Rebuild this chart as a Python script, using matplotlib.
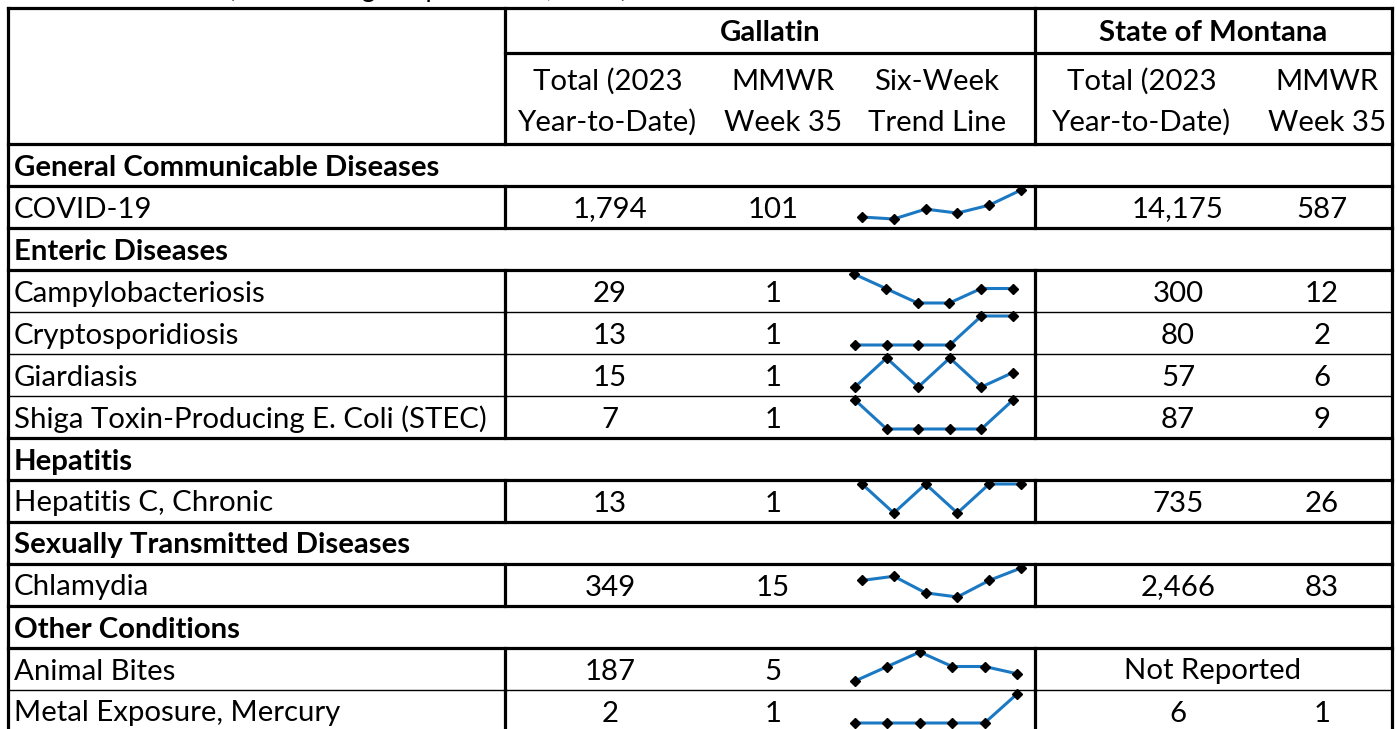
import matplotlib
matplotlib.use("Agg")
import matplotlib.pyplot as plt

plt.rcParams['font.family'] = ['Lato', 'DejaVu Sans']

# ---------------- data ----------------
groups = ["General Communicable Diseases", "Enteric Diseases", "Hepatitis",
          "Sexually Transmitted Diseases", "Other Conditions"]
conditions = ["COVID-19", "Campylobacteriosis", "Cryptosporidiosis", "Giardiasis",
              "Shiga Toxin-Producing E. Coli (STEC)", "Hepatitis C, Chronic",
              "Chlamydia", "Animal Bites", "Metal Exposure, Mercury"]
condition_group = [0, 1, 1, 1, 1, 2, 3, 4, 4]
gallatin_ytd = [1794, 29, 13, 15, 7, 13, 349, 187, 2]
gallatin_week = [101, 1, 1, 1, 1, 1, 15, 5, 1]
montana_ytd = [14175, 300, 80, 57, 87, 735, 2466, None, 6]
montana_week = [587, 12, 2, 6, 9, 26, 83, None, 1]
trend_covid = [60, 57, 72, 66, 78, 101]
trend_campylo = [2, 1, 0, 0, 1, 1]
trend_crypto = [0, 0, 0, 0, 1, 1]
trend_giardia = [0, 2, 0, 2, 0, 1]
trend_stec = [1, 0, 0, 0, 0, 1]
trend_hepc = [1, 0, 1, 0, 1, 1]
trend_chlamydia = [12, 13, 9, 8, 12, 15]
trend_bites = [4, 6, 8, 6, 6, 5]
trend_mercury = [0, 0, 0, 0, 0, 1]
trends = [trend_covid, trend_campylo, trend_crypto, trend_giardia, trend_stec,
          trend_hepc, trend_chlamydia, trend_bites, trend_mercury]
header_groups = ["Gallatin", "State of Montana"]
sub_headers = [("Total (2023", "Year-to-Date)"), ("MMWR", "Week 35"),
               ("Six-Week", "Trend Line"), ("Total (2023", "Year-to-Date)"),
               ("MMWR", "Week 35")]
not_reported = "Not Reported"
title = "(Data through September 2, 2023)"

# ---------------- layout (pixels) ----------------
W, H = 1397, 729
FS = 21.2
fig = plt.figure(figsize=(W / 100, H / 100), dpi=100)
ax = fig.add_axes([0, 0, 1, 1])
ax.set_xlim(0, W)
ax.set_ylim(H, 0)
ax.axis('off')

X_L, X_A, X_B, X_R = 8, 505, 1035, 1392
Y_TOP, Y_MID, Y_HDR = 8, 53, 144
ROW_H = 42
THICK, THIN = 2.3, 1.0
spark_x = [(862, 1021), (854, 1013), (855, 1013), (855, 1013), (855, 1013),
           (862, 1021), (862, 1021), (855, 1017), (855, 1017)]

def hline(y, x0, x1, lw):
    ax.plot([x0, x1], [y, y], color='black', lw=lw, solid_capstyle='projecting')

def vline(x, y0, y1, lw):
    ax.plot([x, x], [y0, y1], color='black', lw=lw, solid_capstyle='projecting')

def txt(x, y, s, ha='center', bold=False):
    ax.text(x, y + 10.5, s, ha=ha, va='baseline', fontsize=FS,
            fontweight='bold' if bold else 'normal', color='black')

# title (mostly cut off at the top, as in the source)
fig.text(228 / W, 1 + 3 / H, title, ha='left', va='baseline', fontsize=FS * 0.9)

# header
txt(770, 30, header_groups[0], bold=True)
txt(1213, 30, header_groups[1], bold=True)
sub_x = [608, 783, 937, 1142, 1327]
for (l1, l2), x in zip(sub_headers, sub_x):
    txt(x, 79, l1)
    txt(x, 120, l2)

hline(Y_TOP, X_L, X_R, THICK)
hline(Y_MID, X_A, X_R, THICK)
hline(Y_HDR, X_L, X_R, THICK)
vline(X_A, Y_TOP, Y_HDR, THICK)
vline(X_B, Y_TOP, Y_HDR, THICK)

# body rows
rows = []
prev = None
for i, g in enumerate(condition_group):
    if g != prev:
        rows.append(('group', g))
        prev = g
    rows.append(('item', i))

def fmt(v):
    return f"{v:,}"

y = Y_HDR
for r, (kind, idx) in enumerate(rows):
    top, bot = y, y + ROW_H
    yc = (top + bot) / 2
    if kind == 'group':
        txt(14, yc, groups[idx], ha='left', bold=True)
    else:
        txt(14, yc, conditions[idx], ha='left')
        txt(610, yc, fmt(gallatin_ytd[idx]))
        txt(773, yc, fmt(gallatin_week[idx]))
        if montana_ytd[idx] is None:
            txt(1213, yc, not_reported)
        else:
            txt(1178, yc, fmt(montana_ytd[idx]))
            txt(1322, yc, fmt(montana_week[idx]))
        vline(X_A, top, min(bot, H + 5), THICK)
        vline(X_B, top, min(bot, H + 5), THICK)
        # sparkline
        vals = trends[idx]
        x0, x1 = spark_x[idx]
        sax = fig.add_axes([x0 / W, 1 - (top + 33) / H, (x1 - x0) / W, 29 / H])
        sax.plot(range(len(vals)), vals, color='#1b78c2', lw=2.2, marker='D',
                 markersize=4.6, markerfacecolor='black', markeredgecolor='black',
                 clip_on=False, zorder=3)
        sax.set_xlim(0, len(vals) - 1)
        sax.set_ylim(min(vals), max(vals))
        sax.axis('off')
    # bottom boundary
    if r + 1 < len(rows):
        nxt = rows[r + 1]
        same = (kind == 'item' and nxt[0] == 'item'
                and condition_group[idx] == condition_group[nxt[1]])
        hline(bot, X_L, X_R, THIN if same else THICK)
    y = bot

vline(X_L, Y_TOP, H + 5, THICK)
vline(X_R, Y_TOP, H + 5, THICK)

fig.savefig("out.png", dpi=100)
